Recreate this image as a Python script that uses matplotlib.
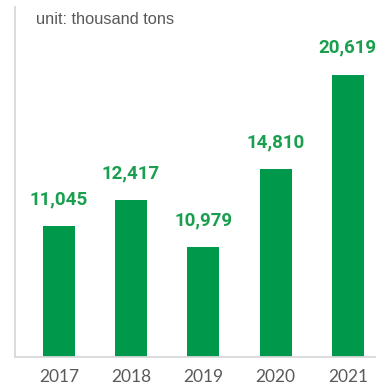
import matplotlib
matplotlib.use("Agg")
import matplotlib.pyplot as plt

years = ["2017", "2018", "2019", "2020", "2021"]
value_labels = [11045, 12417, 10979, 14810, 20619]
# bar heights as drawn in the reference (thousand tons)
bar_heights = [9540, 11423, 8007, 13686, 20619]

fig = plt.figure(figsize=(3.76, 3.87), dpi=100)
ax = fig.add_axes([15 / 376, (387 - 357) / 387, 1 - 15 / 376, (357 - 7) / 387])

x = list(range(len(years)))
bars = ax.bar(x, bar_heights, width=0.443, color="#00994C", zorder=2)

ax.set_xlim(-0.606, 4.39)
ax.set_ylim(0, 350 * 20619 / 282.5)

for xi, h, v in zip(x, bar_heights, value_labels):
    ax.annotate(f"{v:,}", (xi, h), xytext=(0, 13), textcoords="offset points",
                ha="center", va="bottom", color="#1A9F4F", fontsize=13.5,
                fontweight="bold", family="Roboto")

ax.set_xticks(x)
ax.set_xticklabels(years, fontsize=12.5, color="#595959", family="Lato")
ax.tick_params(axis="x", length=0, pad=9)
ax.set_yticks([])

for s in ["top", "right"]:
    ax.spines[s].set_visible(False)
for s in ["left", "bottom"]:
    ax.spines[s].set_color("#D9D9D9")
    ax.spines[s].set_linewidth(1.3)

fig.text(36 / 376, 1 - 24 / 387, "unit: thousand tons", fontsize=11.8,
         color="#595959", family="Liberation Sans", ha="left", va="baseline")

fig.savefig("out.png", dpi=100)
